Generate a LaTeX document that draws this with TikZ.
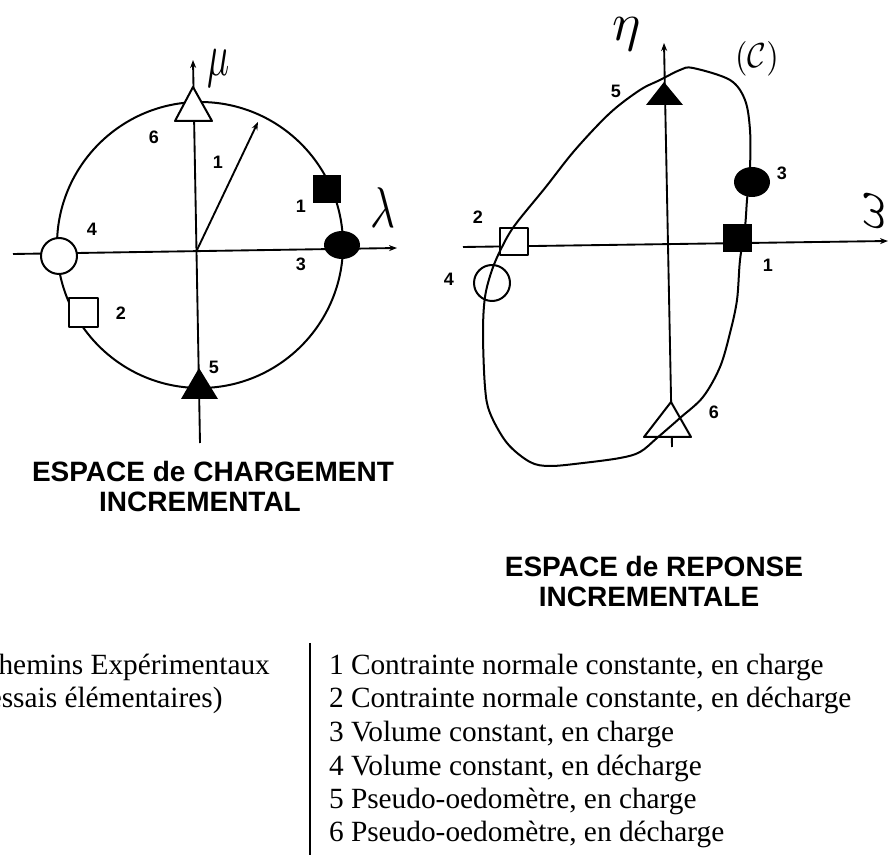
\documentclass[tikz,border=0pt]{standalone}
\usepackage{fontspec}
\setmainfont{Liberation Serif}
\setsansfont{Liberation Sans}
\usetikzlibrary{arrows.meta}
\begin{document}
\begin{tikzpicture}[x=0.75pt,y=-0.75pt,line width=1.5pt,line join=round,
  axisline/.style={line width=1.4pt,-{Stealth[length=6pt,width=4.5pt]}},
  hollow/.style={draw=black,fill=white,line width=1.5pt},
  solid/.style={fill=black},
  num/.style={font=\sffamily\bfseries\fontsize{13.5}{14}\selectfont,inner sep=0pt},
  titletext/.style={font=\sffamily\bfseries\fontsize{21}{23}\selectfont,inner sep=0pt,anchor=base},
  legtext/.style={font=\fontsize{22}{25}\selectfont,inner sep=0pt,anchor=base west},
  hand/.style={inner sep=0pt}]
\useasboundingbox (0,0) rectangle (890,855);
\clip (0,0) rectangle (890,855);

% ---------------- left diagram ----------------
\coordinate (LO) at (197,250);
\coordinate (LxA) at (13,254);
\coordinate (LxB) at (397,248);
\coordinate (LyA) at (200,443);
\coordinate (LyB) at (193,60);
\coordinate (L1) at (258,122);
\draw[axisline] (LxA) -- (LxB);
\draw[axisline] (LyA) -- (LyB);
\draw[axisline] (LO) -- (L1);
\draw (200,245) circle[radius=143];
% symbols
\draw[hollow] (193,87) -- (212,121) -- (175,121) -- cycle;
\fill[solid] (199,368) -- (218,399) -- (181,399) -- cycle;
\draw[hollow] (59,256) circle[radius=18];
\fill[solid] (342,245) ellipse[x radius=18,y radius=14];
\fill[solid] (313,175) rectangle (341,203);
\draw[hollow] (69,298) rectangle (98,327);
% numbers
\node[num] (l6) at (154,137) {6};
\node[num] (l1a) at (218,162) {1};
\node[num] (l1b) at (301,206) {1};
\node[num] (l4) at (92,229) {4};
\node[num] (l3) at (301,264) {3};
\node[num] (l2) at (121,313) {2};
\node[num] (l5) at (214,367) {5};
% axis labels
\node[hand] (mu) at (219,68) {\scalebox{2.75}[4.5]{$\mu$}};
\node[hand] (lam) at (383,208) {\scalebox{3.2}[4.3]{$\lambda$}};
% titles
\node[titletext] (t1) at (213,482) {ESPACE de CHARGEMENT};
\node[titletext] (t2) at (200,512) {INCREMENTAL};

% ---------------- right diagram ----------------
\coordinate (RxA) at (463,247);
\coordinate (RxB) at (888,241);
\coordinate (RyA) at (672,447);
\coordinate (RyB) at (664,43);
\draw[axisline] (RxA) -- (RxB);
\draw[axisline] (RyA) -- (RyB);
% hollow symbols under the curve
\draw[hollow] (671,402) -- (691,437) -- (644,437) -- cycle;
\draw[hollow] (500,228) rectangle (528,255);
\draw[hollow] (492,283) circle[radius=18];
% response curve
\draw plot[smooth cycle,tension=0.55] coordinates {
 (693,68) (730,80) (745,100) (750,130) (750,167) (747,200) (745,227)
 (740,260) (737,300) (730,333) (720,367) (703,397) (680,418) (657,438)
 (640,452) (620,458) (583,463) (550,466) (530,462) (507,443) (490,413)
 (485,387) (483,333) (485,297) (492,270) (502,247) (515,225) (545,188)
 (575,150) (610,113) (640,90) (660,80) (680,70)};
% filled symbols
\fill[solid] (664,82) -- (683,105) -- (646,105) -- cycle;
\fill[solid] (723,224) rectangle (752,252);
\fill[solid] (752,182) ellipse[x radius=18,y radius=15];
% numbers
\node[num] (r5) at (616,91) {5};
\node[num] (r2) at (478,217) {2};
\node[num] (r4) at (449,279) {4};
\node[num] (r3) at (782,173) {3};
\node[num] (r1) at (768,265) {1};
\node[num] (r6) at (714,412) {6};
% axis labels
\node[hand] (eta) at (627,34) {\scalebox{4.0}[4.0]{$\eta$}};
\node[hand] (om) at (874,210) {\scalebox{3.3}[4.5]{\rotatebox{90}{$\omega$}}};
\node[hand] (cc) at (757,59) {\scalebox{2.4}[2.6]{$(\mathcal{C})$}};
% titles
\node[titletext] (t3) at (654,577) {ESPACE de REPONSE};
\node[titletext] (t4) at (649,607) {INCREMENTALE};

% ---------------- legend ----------------
\coordinate (barA) at (310,643);
\coordinate (barB) at (310,860);
\draw[line width=1.3pt] (barA) -- (barB);
\node[legtext] (c1) at (-22,675) {Chemins Expérimentaux};
\node[legtext] (c2) at (-22,708) {(essais élémentaires)};
\node[legtext] (g1) at (328,675) {1 Contrainte normale constante, en charge};
\node[legtext] (g2) at (328,708) {2 Contrainte normale constante, en décharge};
\node[legtext] (g3) at (328,741) {3 Volume constant, en charge};
\node[legtext] (g4) at (328,775) {4 Volume constant, en décharge};
\node[legtext] (g5) at (328,808) {5 Pseudo-oedomètre, en charge};
\node[legtext] (g6) at (328,841) {6 Pseudo-oedomètre, en décharge};
\end{tikzpicture}
\end{document}
